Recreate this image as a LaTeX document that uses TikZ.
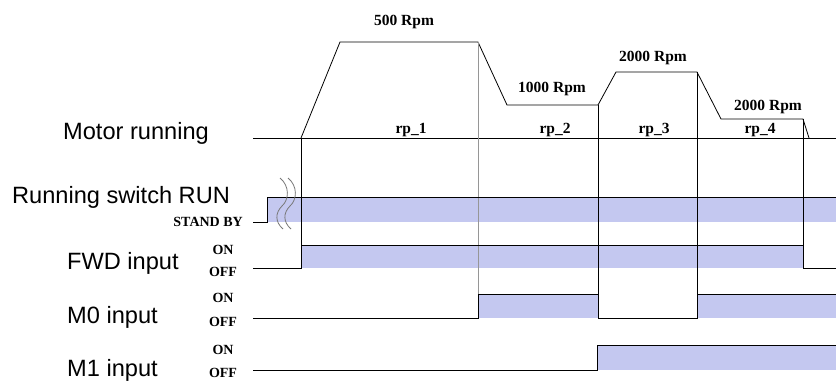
\documentclass[tikz,border=0pt]{standalone}
\usepackage{fontspec}
\setmainfont{Liberation Sans}
\newfontfamily\chartfont{Liberation Serif}
\usetikzlibrary{positioning}
\definecolor{LevelFill}{RGB}{196,200,240}
\definecolor{BreakGray}{RGB}{120,120,120}
\definecolor{EdgeGray}{RGB}{150,150,150}

\begin{document}
\begin{tikzpicture}[x=1pt,y=-1pt,
    sig/.style={draw=black,line width=0.8pt},
    level/.style={fill=LevelFill},
    rowname/.style={font=\fontsize{23.6}{26}\selectfont,inner sep=0pt,anchor=west},
    tag/.style={font=\chartfont\bfseries\fontsize{14}{16}\selectfont,inner sep=0pt},
    spd/.style={font=\chartfont\bfseries\fontsize{15.5}{17}\selectfont,inner sep=0pt},
    brk/.style={draw=BreakGray,line width=0.8pt}
  ]
  \useasboundingbox (0,0) rectangle (836,381);

  % shaded ON levels
  \fill[level] (267,197) rectangle (836,222);
  \fill[level] (301,245) rectangle (803,268);
  \fill[level] (478,294) rectangle (598,318);
  \fill[level] (697,294) rectangle (836,318);
  \fill[level] (597,345) rectangle (836,370);

  % row names
  \node[rowname] (motor) at (63,133) {Motor running};
  \node[rowname] (run) at (12,197) {Running switch RUN};
  \node[rowname] (fwd) at (67,263) {FWD input};
  \node[rowname] (mzero) at (67,317) {M0 input};
  \node[rowname] (mone) at (67,370) {M1 input};

  % level tags
  \node[tag,anchor=east] (standby) at (243,222) {STAND BY};
  \node[tag] (fwdon) at (223,250) {ON};
  \node[tag,below=12pt of fwdon] (fwdoff) {OFF};
  \node[tag] (mzeroon) at (223,298) {ON};
  \node[tag,below=14pt of mzeroon] (mzerooff) {OFF};
  \node[tag] (moneon) at (223,350) {ON};
  \node[tag,below=13pt of moneon] (moneoff) {OFF};

  % speed profile
  \draw[sig] (253,138) -- (836,138);
  \draw[sig] (301,138) -- (340,42) -- (478,42) -- (507,105) -- (598,105)
    -- (616,72) -- (697,72) -- (721,119) -- (803,119) -- (809,138);
  \node[spd] (spdA) at (404,22) {500 Rpm};
  \node[spd] (spdB) at (552,89) {1000 Rpm};
  \node[spd] (spdC) at (653,58) {2000 Rpm};
  \node[spd] (spdD) at (768,107) {2000 Rpm};
  \node[spd] (rpA) at (411,130) {rp\_1};
  \node[spd] (rpB) at (555,130) {rp\_2};
  \node[spd] (rpC) at (654,130) {rp\_3};
  \node[spd] (rpD) at (760,130) {rp\_4};

  % step boundaries
  \draw[sig] (301,138) -- (301,245);
  \draw[draw=EdgeGray,line width=0.8pt] (478,42) -- (478,294);
  \draw[sig] (598,105) -- (598,294);
  \draw[sig] (697,72) -- (697,294);
  \draw[sig] (803,119) -- (803,245);

  % input signals
  \draw[sig] (253,222) -- (267,222) -- (267,197) -- (836,197);
  \draw[sig] (253,268) -- (301,268) -- (301,245) -- (803,245) -- (803,268) -- (836,268);
  \draw[sig] (253,318) -- (478,318) -- (478,294) -- (598,294) -- (598,318)
    -- (697,318) -- (697,294) -- (836,294);
  \draw[sig] (253,370) -- (597,370) -- (597,345) -- (836,345);

  % break marks
  \draw[brk] (280,178) .. controls (290,186) and (289,200) .. (282,206)
    .. controls (275,213) and (275,222) .. (283,229);
  \draw[brk] (288,178) .. controls (298,186) and (297,200) .. (290,206)
    .. controls (283,213) and (283,222) .. (291,229);
\end{tikzpicture}
\end{document}
